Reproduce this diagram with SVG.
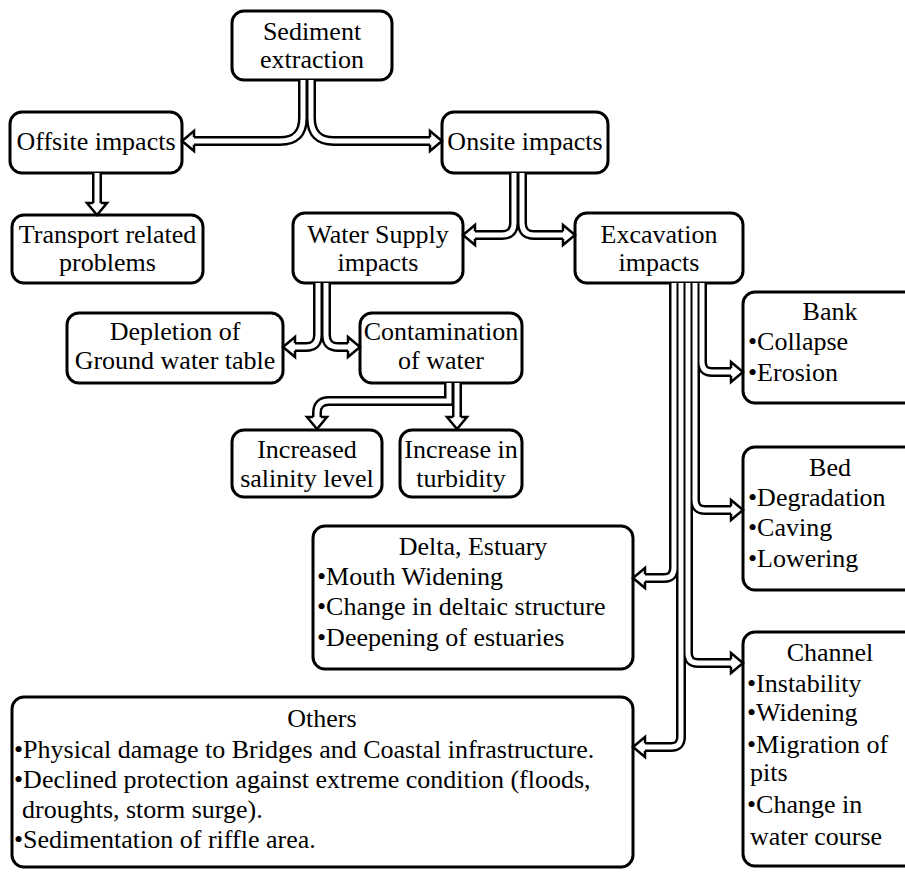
<svg xmlns="http://www.w3.org/2000/svg" xmlns:xlink="http://www.w3.org/1999/xlink" width="905" height="872" viewBox="0 0 905 872" font-family="'Liberation Serif','Times New Roman',serif">
<style>
.box{fill:#fff;stroke:#000;stroke-width:3}
text{font-family:"Liberation Serif","Times New Roman",serif;font-size:26px;fill:#000}
.c{text-anchor:middle}
.pb{fill:none;stroke:#000;stroke-width:10;stroke-linecap:butt;stroke-linejoin:miter}
.pw{fill:none;stroke:#fff;stroke-width:5;stroke-linecap:butt;stroke-linejoin:miter}
.ah{fill:#fff;stroke:#000;stroke-width:2.5;stroke-linejoin:miter}
</style>
<defs>
<path id="ah" d="M-12,-3.75 L-12,-10 L0,0 L-12,10 L-12,3.75"/>
<path id="p1" d="M303,80 V118 Q303,141 280,141 H193"/>
<path id="p2" d="M311,80 V118 Q311,141 334,141 H431"/>
<path id="p3" d="M97,173 V204"/>
<path id="p4" d="M514,173 V223 Q514,235 502,235 H474"/>
<path id="p5" d="M522,173 V223 Q522,235 534,235 H564"/>
<path id="p6" d="M318,283 V335 Q318,347 306,347 H294"/>
<path id="p7" d="M326,283 V335 Q326,347 338,347 H349"/>
<path id="p8" d="M449,383 V401 H329 Q317,401 317,413 V418"/>
<path id="p9" d="M457,383 V418"/>
<path id="p10" d="M702,283 V362 Q702,372 712,372 H732"/>
<path id="p11" d="M695,283 V500 Q695,510 705,510 H732"/>
<path id="p12" d="M674,283 V568 Q674,578 664,578 H644"/>
<path id="p13" d="M688,283 V653 Q688,663 698,663 H732"/>
<path id="p14" d="M681,283 V737 Q681,747 671,747 H644"/>
</defs>

<g id="sediment-extraction">
<rect class="box" x="232" y="11" width="160" height="69" rx="12"/>
<text class="c" x="312" y="40">Sediment</text>
<text class="c" x="312" y="68">extraction</text>
</g>
<g id="offsite-impacts">
<rect class="box" x="10" y="112" width="172" height="61" rx="12"/>
<text class="c" x="96" y="150">Offsite impacts</text>
</g>
<g id="onsite-impacts">
<rect class="box" x="442" y="112" width="166" height="61" rx="12"/>
<text class="c" x="525" y="150">Onsite impacts</text>
</g>
<g id="transport-related-problems">
<rect class="box" x="12" y="215" width="191" height="68" rx="12"/>
<text class="c" x="107.5" y="243">Transport related</text>
<text class="c" x="107.5" y="271">problems</text>
</g>
<g id="water-supply-impacts">
<rect class="box" x="293" y="213" width="170" height="70" rx="12"/>
<text class="c" x="378" y="243">Water Supply</text>
<text class="c" x="378" y="271">impacts</text>
</g>
<g id="excavation-impacts">
<rect class="box" x="575" y="213" width="168" height="70" rx="12"/>
<text class="c" x="659" y="243">Excavation</text>
<text class="c" x="659" y="271">impacts</text>
</g>
<g id="depletion-of-ground-water-table">
<rect class="box" x="67" y="313" width="216" height="70" rx="12"/>
<text class="c" x="175" y="340">Depletion of</text>
<text class="c" x="175" y="369">Ground water table</text>
</g>
<g id="contamination-of-water">
<rect class="box" x="360" y="313" width="162" height="70" rx="12"/>
<text class="c" x="441" y="340">Contamination</text>
<text class="c" x="441" y="369">of water</text>
</g>
<g id="increased-salinity-level">
<rect class="box" x="232" y="430" width="150" height="67" rx="12"/>
<text class="c" x="307" y="458">Increased</text>
<text class="c" x="307" y="487">salinity level</text>
</g>
<g id="increase-in-turbidity">
<rect class="box" x="400" y="430" width="122" height="67" rx="12"/>
<text class="c" x="461" y="458">Increase in</text>
<text class="c" x="461" y="487">turbidity</text>
</g>
<g id="bank">
<rect class="box" x="743" y="292" width="176" height="111" rx="12"/>
<text class="c" x="830" y="320">Bank</text>
<text x="748" y="350">•Collapse</text>
<text x="748" y="381">•Erosion</text>
</g>
<g id="bed">
<rect class="box" x="743" y="447" width="176" height="143" rx="12"/>
<text class="c" x="830" y="476">Bed</text>
<text x="748" y="506">•Degradation</text>
<text x="748" y="536">•Caving</text>
<text x="748" y="567">•Lowering</text>
</g>
<g id="delta-estuary">
<rect class="box" x="313" y="526" width="320" height="143" rx="12"/>
<text class="c" x="473" y="555">Delta, Estuary</text>
<text x="317" y="585">•Mouth Widening</text>
<text x="317" y="615">•Change in deltaic structure</text>
<text x="317" y="646">•Deepening of estuaries</text>
</g>
<g id="channel">
<rect class="box" x="743" y="632" width="176" height="234" rx="12"/>
<text class="c" x="830" y="661">Channel</text>
<text x="747" y="692">•Instability</text>
<text x="747" y="721">•Widening</text>
<text x="747" y="753">•Migration of</text>
<text x="750" y="781">pits</text>
<text x="747" y="813">•Change in</text>
<text x="750" y="845">water course</text>
</g>
<g id="others">
<rect class="box" x="12" y="697" width="621" height="170" rx="12"/>
<text class="c" x="322" y="727">Others</text>
<text x="14" y="758">•Physical damage to Bridges and Coastal infrastructure.</text>
<text x="14" y="788">•Declined protection against extreme condition (floods,</text>
<text x="22" y="818">droughts, storm surge).</text>
<text x="14" y="848">•Sedimentation of riffle area.</text>
</g>

<g id="connectors">
<g class="pb">
<use xlink:href="#p1"/><use xlink:href="#p2"/><use xlink:href="#p3"/><use xlink:href="#p4"/><use xlink:href="#p5"/><use xlink:href="#p6"/><use xlink:href="#p7"/><use xlink:href="#p8"/><use xlink:href="#p9"/><use xlink:href="#p10"/><use xlink:href="#p11"/><use xlink:href="#p12"/><use xlink:href="#p13"/><use xlink:href="#p14"/>
</g>
<g class="pw">
<use xlink:href="#p1"/><use xlink:href="#p2"/><use xlink:href="#p3"/><use xlink:href="#p4"/><use xlink:href="#p5"/><use xlink:href="#p6"/><use xlink:href="#p7"/><use xlink:href="#p8"/><use xlink:href="#p9"/><use xlink:href="#p10"/><use xlink:href="#p11"/><use xlink:href="#p12"/><use xlink:href="#p13"/><use xlink:href="#p14"/>
</g>
<g class="ah">
<use xlink:href="#ah" transform="translate(182,141) rotate(180)"/>
<use xlink:href="#ah" transform="translate(442,141)"/>
<use xlink:href="#ah" transform="translate(97,215) rotate(90)"/>
<use xlink:href="#ah" transform="translate(463,235) rotate(180)"/>
<use xlink:href="#ah" transform="translate(575,235)"/>
<use xlink:href="#ah" transform="translate(283,347) rotate(180)"/>
<use xlink:href="#ah" transform="translate(360,347)"/>
<use xlink:href="#ah" transform="translate(317,429) rotate(90)"/>
<use xlink:href="#ah" transform="translate(457,429) rotate(90)"/>
<use xlink:href="#ah" transform="translate(743,372)"/>
<use xlink:href="#ah" transform="translate(743,510)"/>
<use xlink:href="#ah" transform="translate(633,578) rotate(180)"/>
<use xlink:href="#ah" transform="translate(743,663)"/>
<use xlink:href="#ah" transform="translate(633,747) rotate(180)"/>
</g>
</g>
</svg>
